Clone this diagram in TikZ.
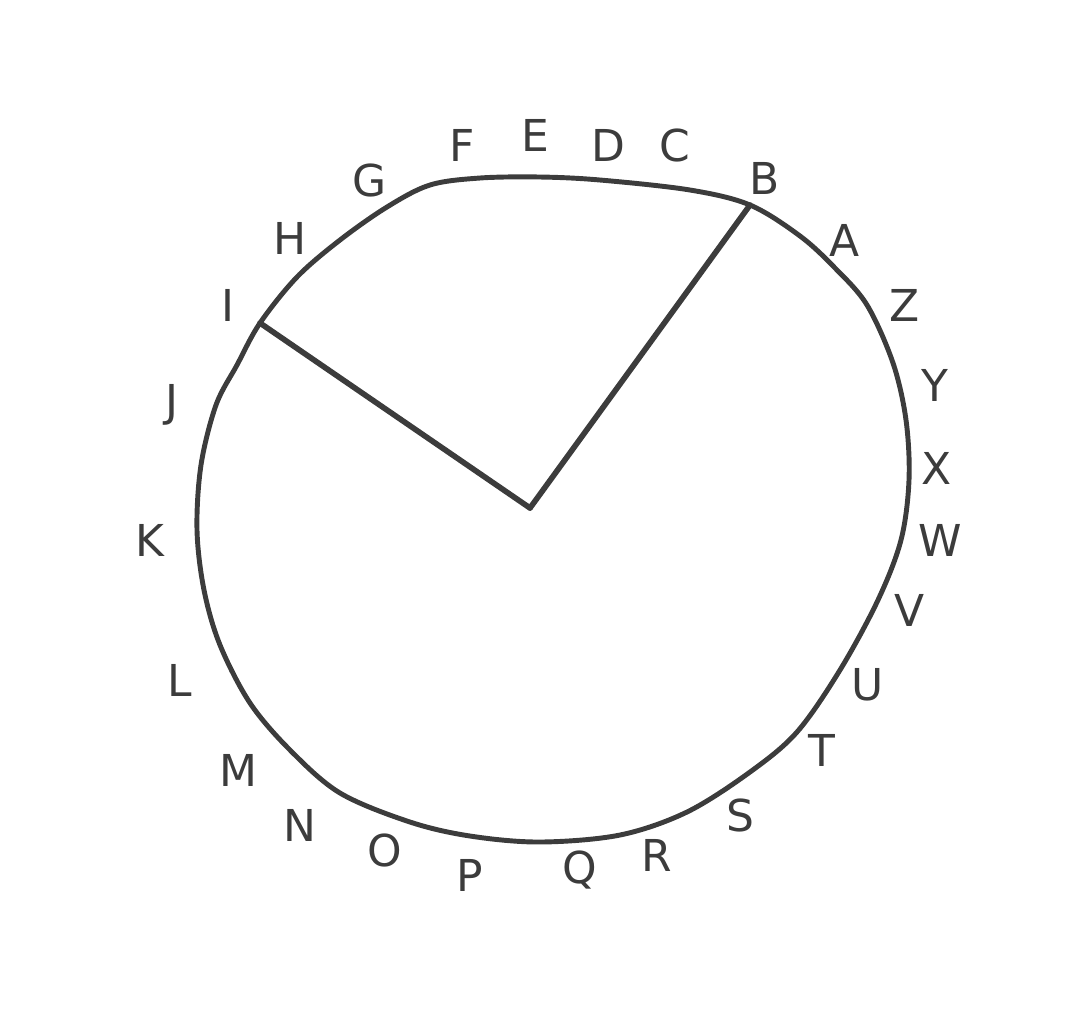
\documentclass[tikz,border=0pt]{standalone}
\usepackage{fontspec}
\setmainfont{DejaVu Sans}
\usepackage{xcolor}
\usepackage{tikz}
\usetikzlibrary{calc}

\definecolor{pencil}{HTML}{3C3C3C}

\begin{document}
\begin{tikzpicture}[
  x=0.01cm, y=-0.01cm,
  letter/.style={font=\fontsize{12.5}{15}\selectfont, text=pencil, inner sep=1pt},
  rim/.style={draw=pencil, line width=1.4pt, line join=round},
  spoke/.style={draw=pencil, line width=1.6pt, line cap=round}
]
  \useasboundingbox (0,0) rectangle (1076,1011);

  % Wheel outline
  \draw[rim] plot[smooth cycle, tension=0.55] coordinates {
    (430,185) (480,178) (540,177) (600,180) (690,190) (750,205) (800,236)
    (835,268) (867,305) (893,363) (906,420) (909,480) (901,540) (878,600)
    (840,670) (797,732) (750,772) (687,812) (620,835) (540,842) (470,836)
    (410,822) (340,793) (290,750) (250,703) (220,645) (204,590) (197,530)
    (201,465) (216,405) (237,365) (260,323) (297,277) (340,240) (387,207)};

  % Hub and rim points
  \coordinate (hub) at (530,508);
  \coordinate (rimB) at (750,205);
  \coordinate (rimI) at (260,323);

  % Spokes
  \draw[spoke] (hub) -- (rimB);
  \draw[spoke] (hub) -- (rimI);

  % Letters
  \foreach \ch/\px/\py in {B/765/178, A/845/240, Z/905/305, Y/935/385,
      X/937/468, W/940/540, V/910/610, U/868/685, T/822/750, S/740/815,
      R/657/855, Q/580/870, P/470/875, O/385/850, N/300/825, M/238/770,
      L/180/680, K/150/540, J/172/405, I/228/305, H/290/238, G/370/180,
      F/462/145, E/535/135, D/608/145, C/675/145}
    \node[letter] (l\ch) at (\px,\py) {\ch};
\end{tikzpicture}
\end{document}
